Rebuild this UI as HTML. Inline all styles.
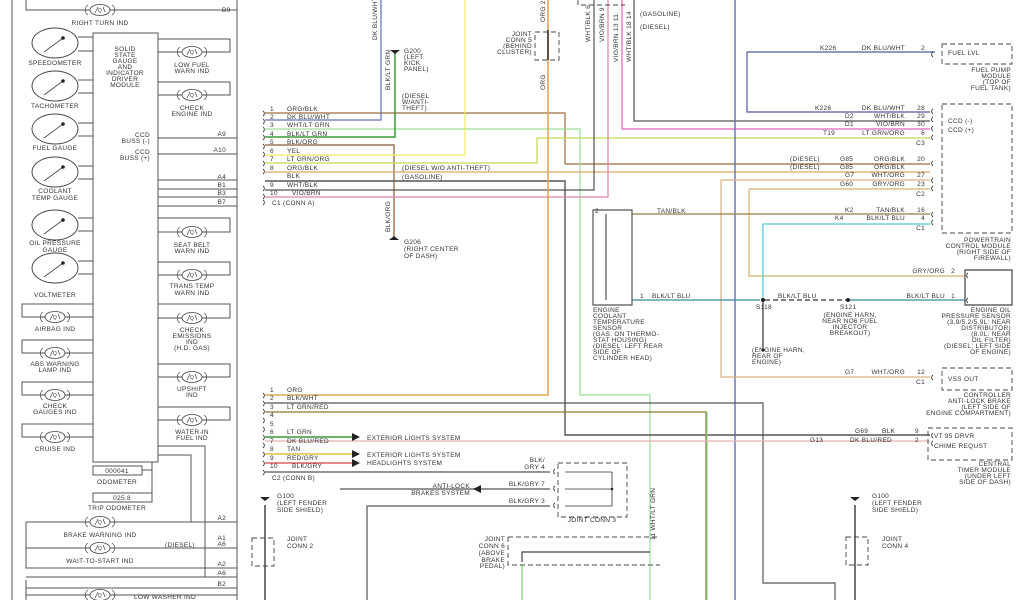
<!DOCTYPE html>
<html><head><meta charset="utf-8"><style>
html,body{margin:0;padding:0;background:#fff;width:1024px;height:600px;overflow:hidden}
svg{display:block}
text{font-family:"Liberation Sans",sans-serif;font-size:6.5px;fill:#333;letter-spacing:0.3px}
.r{text-anchor:end}.m{text-anchor:middle}
</style></head><body>
<svg width="1024" height="600" viewBox="0 0 1024 600" xmlns="http://www.w3.org/2000/svg">
<defs>
<g id="lamp"><ellipse cx="0" cy="0" rx="10" ry="5.5" fill="#fff" stroke="#444" stroke-width="0.8"/><path d="M-14 0h4M10 0h4M-12 -5a6 6 0 0 0 0 10M12 -5a6 6 0 0 1 0 10M-5 3l3-6M3-3l2 5" stroke="#444" stroke-width="0.7" fill="none"/><text x="0" y="2" class="m" style="font-size:5px">Q</text></g>
<g id="gauge"><ellipse cx="0" cy="0" rx="23" ry="15" fill="#fff" stroke="#444" stroke-width="0.9"/><path d="M-11 9L8-5" stroke="#444" stroke-width="0.8"/><circle cx="8" cy="-5" r="1.8" fill="#222"/></g>
</defs>
<g fill="none" stroke-width="1">
<path d="M12 0V600M237 0V600" stroke="#555"/>
<path d="M26 0V10H237" stroke="#555"/>
<rect x="93" y="33" width="65" height="429" stroke="#555" fill="#fff"/>
<g stroke="#555">
<path d="M78 37H93M78 51H93M78 80H93M78 93H93M78 123H93M78 136H93M78 166H93M78 179H93M78 218H93M78 231H93M78 261H93M78 274H93"/>
<path d="M158 39H230V52H158M158 82H230V95H158M158 218H230V232H158M158 262H230V275H158M158 304H230V318H158M158 364H230V377H158M158 407H230V420H158"/>
<path d="M93 304H22V317H93M93 340H22V353H93M93 382H22V395H93M93 424H22V437H93"/>
<path d="M158 138H237M158 154H237M158 180H237M158 189H237M158 197H237M158 206H237"/>
<path d="M142 470H152V462M152 497V462M158 455H191V522M158 446H205V577"/>
<path d="M26 522H237M26 548H237M26 522V568H237M26 577H237M26 580V600M26 588H237M26 595H237"/>
<rect x="93" y="466" width="49" height="9" fill="#fff"/><rect x="93" y="493" width="59" height="9" fill="#fff"/>
</g>
</g>
<g>
<use href="#gauge" x="55" y="43"/><use href="#gauge" x="55" y="86"/><use href="#gauge" x="55" y="129"/><use href="#gauge" x="55" y="172"/><use href="#gauge" x="55" y="225"/><use href="#gauge" x="55" y="268"/>
<use href="#lamp" x="100" y="10"/>
<use href="#lamp" x="192" y="52"/><use href="#lamp" x="192" y="95"/><use href="#lamp" x="192" y="232"/><use href="#lamp" x="192" y="275"/><use href="#lamp" x="192" y="318"/><use href="#lamp" x="192" y="377"/><use href="#lamp" x="192" y="420"/>
<use href="#lamp" x="55" y="317"/><use href="#lamp" x="55" y="353"/><use href="#lamp" x="55" y="395"/><use href="#lamp" x="55" y="437"/>
<use href="#lamp" x="100" y="522"/><use href="#lamp" x="100" y="548"/><use href="#lamp" x="100" y="595"/>
</g>
<text x="100" y="25" class="m">RIGHT TURN IND</text><text x="222" y="12">B9</text>
<text x="55" y="65" class="m">SPEEDOMETER</text><text x="55" y="108" class="m">TACHOMETER</text><text x="55" y="150" class="m">FUEL GAUGE</text>
<text x="55" y="193" class="m">COOLANT</text><text x="55" y="200" class="m">TEMP GAUGE</text>
<text x="55" y="245" class="m">OIL PRESSURE</text><text x="55" y="252" class="m">GAUGE</text><text x="55" y="297" class="m">VOLTMETER</text>
<text x="125" y="51" class="m">SOLID</text><text x="125" y="57" class="m">STATE</text><text x="125" y="63" class="m">GAUGE</text><text x="125" y="69" class="m">AND</text><text x="125" y="75" class="m">INDICATOR</text><text x="125" y="81" class="m">DRIVER</text><text x="125" y="87" class="m">MODULE</text>
<text x="150" y="137" class="r">CCD</text><text x="150" y="143" class="r">BUSS (-)</text><text x="150" y="154" class="r">CCD</text><text x="150" y="160" class="r">BUSS (+)</text>
<text x="192" y="67" class="m">LOW FUEL</text><text x="192" y="73" class="m">WARN IND</text><text x="192" y="110" class="m">CHECK</text><text x="192" y="116" class="m">ENGINE IND</text>
<text x="226" y="136" class="r">A9</text><text x="226" y="152" class="r">A10</text><text x="226" y="179" class="r">A4</text><text x="226" y="187" class="r">B1</text><text x="226" y="195" class="r">B3</text><text x="226" y="204" class="r">B7</text>
<text x="192" y="247" class="m">SEAT BELT</text><text x="192" y="253" class="m">WARN IND</text><text x="192" y="288" class="m">TRANS TEMP</text><text x="192" y="295" class="m">WARN IND</text>
<text x="55" y="331" class="m">AIRBAG IND</text><text x="55" y="366" class="m">ABS WARNING</text><text x="55" y="372" class="m">LAMP IND</text>
<text x="55" y="408" class="m">CHECK</text><text x="55" y="414" class="m">GAUGES IND</text><text x="55" y="451" class="m">CRUISE IND</text>
<text x="192" y="332" class="m">CHECK</text><text x="192" y="338" class="m">EMISSIONS</text><text x="192" y="344" class="m">IND</text><text x="192" y="350" class="m">(H.D. GAS)</text>
<text x="192" y="391" class="m">UPSHIFT</text><text x="192" y="397" class="m">IND</text><text x="192" y="434" class="m">WATER-IN</text><text x="192" y="440" class="m">FUEL IND</text>
<text x="117" y="473" class="m">000041</text><text x="117" y="484" class="m">ODOMETER</text><text x="122" y="500" class="m">025.8</text><text x="117" y="510" class="m">TRIP ODOMETER</text>
<text x="100" y="537" class="m">BRAKE WARNING IND</text><text x="100" y="563" class="m">WAIT-TO-START IND</text><text x="165" y="547">(DIESEL)</text>
<text x="226" y="520" class="r">A2</text><text x="226" y="540" class="r">A1</text><text x="226" y="546" class="r">A6</text><text x="226" y="566" class="r">A2</text><text x="226" y="575" class="r">A6</text><text x="226" y="586" class="r">B2</text>
<text x="165" y="599" class="m">LOW WASHER IND</text>

<g fill="none" stroke-width="1.2">
<path d="M265 113H565V164H930" stroke="#9a6a3a"/>
<path d="M265 120H381V0" stroke="#6070b0"/>
<path d="M265 129H580V395H650V600" stroke="#9be09b"/>
<path d="M265 137H395V50" stroke="#3a9a3a" stroke-width="1.5"/>
<path d="M265 145H394V240" stroke="#8a5a30"/>
<path d="M265 155H465V0" stroke="#f0e860"/>
<path d="M265 163H537V138H930" stroke="#c0dc50"/>
<path d="M265 172H930" stroke="#dca868"/>
<path d="M265 181H565V435H930" stroke="#555" stroke-width="1.4"/>
<path d="M265 190H594V0" stroke="#555"/>
<path d="M265 197H608V0" stroke="#e080b0"/>
<path d="M548 0V395H265" stroke="#dca858" stroke-width="1.6"/>
<path d="M622 0V129H930" stroke="#e060c0"/>
<path d="M634 0V121H930" stroke="#555"/>
<path d="M747 52H935M747 52V112H930" stroke="#505aa0"/>
<path d="M735 0V600" stroke="#6070b0" stroke-width="1.4"/>
<path d="M721 180H930M721 180V377H930" stroke="#dcb080"/>
<path d="M749 189H930M749 189V276H965" stroke="#d4b070"/>
<path d="M632 214H930" stroke="#9a7a3a"/>
<path d="M763 224H930M763 224V300" stroke="#50c8d0"/>
<path d="M632 300H760M848 300H965" stroke="#3a8a9a"/>
<path d="M765 300H848" stroke="#333" stroke-dasharray="5 3"/>
<path d="M763 300V350" stroke="#333"/>
<path d="M265 403H763V583H835V600" stroke="#555"/>
<path d="M265 412H706V600" stroke="#8a7a30"/>
<path d="M707 412V600" stroke="#8ad88a"/>
<path d="M265 437H352" stroke="#3a9a3a" stroke-width="1.5"/>
<path d="M265 441H930" stroke="#e8b0b0"/>
<path d="M265 454H352" stroke="#e0c040" stroke-width="1.5"/>
<path d="M265 463H352" stroke="#e06060" stroke-width="1.5"/>
<path d="M265 472H550" stroke="#555"/>
<path d="M340 489H550" stroke="#555"/>
<path d="M367 600V506H550" stroke="#555"/>
<path d="M565 472H612V506H565M565 489H612" stroke="#333" stroke-width="0.8"/>
<path d="M265 505V600" stroke="#444" stroke-width="1.5"/>
<path d="M855 505V600" stroke="#444" stroke-width="1.5"/>
<path d="M522 565V600" stroke="#8ad88a" stroke-width="1.4"/>
<path d="M522 562V552H650" stroke="#444"/>
<path d="M593 210V305H632V210Z" stroke="#555"/>
<path d="M606 214V300" stroke="#555"/>
<path d="M965 270H1012V305H965Z" stroke="#444"/>
<path d="M548 30V60" stroke="#222" stroke-width="1.4"/>
</g>
<path d="M352 433l8 4-8 4zM352 450l8 4-8 4zM352 459l8 4-8 4zM473 489l8-4v8z" fill="#222"/>
<g fill="none" stroke="#444" stroke-width="0.9" stroke-dasharray="5 3">
<rect x="942" y="44" width="70" height="20"/>
<rect x="942" y="104" width="70" height="129"/>
<rect x="942" y="368" width="70" height="22"/>
<rect x="928" y="428" width="84" height="32"/>
<rect x="558" y="463" width="69" height="54"/>
<path d="M508 537V565H660M508 537H660"/>
<rect x="535" y="32" width="24" height="28"/>
<rect x="252" y="538" width="22" height="28"/>
<rect x="846" y="537" width="22" height="28"/>
<path d="M578 0V5H625"/>
</g>
<g fill="#222"><path d="M390 50h10l-5 4z"/><path d="M389 240h10l-5-4z"/><path d="M260 497h10l-5 4z"/><path d="M850 497h10l-5 4z"/>
<circle cx="763" cy="300" r="2"/><circle cx="848" cy="300" r="2"/><circle cx="763" cy="350" r="1.5"/><circle cx="612" cy="489" r="1.3"/></g>
<g fill="none" stroke="#333" stroke-width="0.8">
<path d="M933 52a3 3 0 0 0 0 5M933 109a3 3 0 0 0 0 5M933 117a3 3 0 0 0 0 5M933 126a3 3 0 0 0 0 5M933 135a3 3 0 0 0 0 5M933 161a3 3 0 0 0 0 5M933 178a3 3 0 0 0 0 5M933 186a3 3 0 0 0 0 5M933 212a3 3 0 0 0 0 5M933 220a3 3 0 0 0 0 5M933 375a3 3 0 0 0 0 5M933 433a3 3 0 0 0 0 5M933 441a3 3 0 0 0 0 5M968 273a3 3 0 0 0 0 5M968 298a3 3 0 0 0 0 5"/>
<path d="M263 111a3 3 0 0 1 0 5M263 119a3 3 0 0 1 0 5M263 127a3 3 0 0 1 0 5M263 135a3 3 0 0 1 0 5M263 144a3 3 0 0 1 0 5M263 152a3 3 0 0 1 0 5M263 161a3 3 0 0 1 0 5M263 169a3 3 0 0 1 0 5M263 186a3 3 0 0 1 0 5M263 194a3 3 0 0 1 0 5M263 200a3 3 0 0 1 0 5"/>
<path d="M263 393a3 3 0 0 1 0 5M263 401a3 3 0 0 1 0 5M263 409a3 3 0 0 1 0 5M263 418a3 3 0 0 1 0 5M263 427a3 3 0 0 1 0 5M263 435a3 3 0 0 1 0 5M263 443a3 3 0 0 1 0 5M263 452a3 3 0 0 1 0 5M263 461a3 3 0 0 1 0 5M263 470a3 3 0 0 1 0 5"/>
<path d="M555 469a3 3 0 0 0 0 5M555 486a3 3 0 0 0 0 5M555 503a3 3 0 0 0 0 5"/>
</g>
<g>
<text x="270" y="111">1</text><text x="287" y="111">ORG/BLK</text>
<text x="270" y="119">2</text><text x="287" y="119">DK BLU/WHT</text>
<text x="270" y="127">3</text><text x="287" y="127">WHT/LT GRN</text>
<text x="270" y="136">4</text><text x="287" y="136">BLK/LT GRN</text>
<text x="270" y="144">5</text><text x="287" y="144">BLK/ORG</text>
<text x="270" y="153">6</text><text x="287" y="153">YEL</text>
<text x="270" y="161">7</text><text x="287" y="161">LT GRN/ORG</text>
<text x="270" y="170">8</text><text x="287" y="170">ORG/BLK</text>
<text x="287" y="178">BLK</text>
<text x="270" y="187">9</text><text x="287" y="187">WHT/BLK</text>
<text x="270" y="195">10</text><text x="292" y="195">VIO/BRN</text>
<text x="272" y="205">C1 (CONN A)</text>
<text x="402" y="170">(DIESEL W/O ANTI-THEFT)</text><text x="402" y="179">(GASOLINE)</text>
<text x="402" y="98">(DIESEL</text><text x="402" y="104">W/ANTI-</text><text x="402" y="110">THEFT)</text>
<text x="404" y="53">G200</text><text x="404" y="59">(LEFT</text><text x="404" y="65">KICK</text><text x="404" y="71">PANEL)</text>
<text x="404" y="244">G206</text><text x="404" y="251">(RIGHT CENTER</text><text x="404" y="258">OF DASH)</text>
<text x="532" y="36" class="r">JOINT</text><text x="532" y="42" class="r">CONN 5</text><text x="532" y="48" class="r">(BEHIND</text><text x="532" y="54" class="r">CLUSTER)</text>
<text x="640" y="16">(GASOLINE)</text><text x="640" y="29">(DIESEL)</text>
<text transform="translate(377 40) rotate(-90)">DK BLU/WHT</text>
<text transform="translate(390 90) rotate(-90)">BLK/LT GRN</text>
<text transform="translate(390 232) rotate(-90)">BLK/ORG</text>
<text transform="translate(545 90) rotate(-90)">ORG</text><text transform="translate(545 22) rotate(-90)">ORG 28</text>
<text transform="translate(590 42) rotate(-90)">WHT/BLK 6</text><text transform="translate(604 42) rotate(-90)">VIO/BRN 9</text>
<text transform="translate(618 62) rotate(-90)">VIO/BRN 13 11</text><text transform="translate(631 62) rotate(-90)">WHT/BLK 18 14</text>
<text x="270" y="392">1</text><text x="287" y="392">ORG</text>
<text x="270" y="400">2</text><text x="287" y="400">BLK/WHT</text>
<text x="270" y="409">3</text><text x="287" y="409">LT GRN/RED</text>
<text x="270" y="417">4</text><text x="270" y="426">5</text>
<text x="270" y="434">6</text><text x="287" y="434">LT GRN</text>
<text x="270" y="443">7</text><text x="287" y="443">DK BLU/RED</text>
<text x="270" y="451">8</text><text x="287" y="451">TAN</text>
<text x="270" y="460">9</text><text x="287" y="460">RED/GRY</text>
<text x="270" y="468">10</text><text x="292" y="468">BLK/GRY</text>
<text x="272" y="480">C2 (CONN B)</text>
<text x="367" y="440">EXTERIOR LIGHTS SYSTEM</text><text x="367" y="457">EXTERIOR LIGHTS SYSTEM</text><text x="367" y="465">HEADLIGHTS SYSTEM</text>
<text x="545" y="462" class="r">BLK/</text><text x="545" y="469" class="r">GRY 4</text>
<text x="545" y="486" class="r">BLK/GRY 7</text><text x="545" y="503" class="r">BLK/GRY 3</text>
<text x="470" y="488" class="r">ANTI-LOCK</text><text x="470" y="495" class="r">BRAKES SYSTEM</text>
<text x="592" y="522" class="m">JOINT CONN 3</text>
<text x="277" y="498">G100</text><text x="277" y="505">(LEFT FENDER</text><text x="277" y="512">SIDE SHIELD)</text>
<text x="287" y="541">JOINT</text><text x="287" y="548">CONN 2</text>
<text x="505" y="541" class="r">JOINT</text><text x="505" y="548" class="r">CONN 6</text><text x="505" y="555" class="r">(ABOVE</text><text x="505" y="562" class="r">BRAKE</text><text x="505" y="568" class="r">PEDAL)</text>
<text transform="translate(655 540) rotate(-90)">11 WHT/LT GRN</text>
<text x="595" y="213">2</text><text x="657" y="213">TAN/BLK</text>
<text x="640" y="298">1</text><text x="652" y="298">BLK/LT BLU</text>
<text x="593" y="312">ENGINE</text><text x="593" y="318">COOLANT</text><text x="593" y="324">TEMPERATURE</text><text x="593" y="330">SENSOR</text><text x="593" y="336">(GAS: ON THERMO-</text><text x="593" y="342">STAT HOUSING)</text><text x="593" y="348">(DIESEL: LEFT REAR</text><text x="593" y="354">SIDE OF</text><text x="593" y="360">CYLINDER HEAD)</text>
</g>
<g>
<text x="820" y="50">K226</text><text x="905" y="50" class="r">DK BLU/WHT</text><text x="925" y="50" class="r">2</text>
<text x="948" y="55">FUEL LVL</text>
<text x="1011" y="72" class="r">FUEL PUMP</text><text x="1011" y="78" class="r">MODULE</text><text x="1011" y="84" class="r">(TOP OF</text><text x="1011" y="90" class="r">FUEL TANK)</text>
<text x="815" y="110">K226</text><text x="905" y="110" class="r">DK BLU/WHT</text><text x="925" y="110" class="r">28</text>
<text x="845" y="118">D2</text><text x="905" y="118" class="r">WHT/BLK</text><text x="925" y="118" class="r">29</text>
<text x="845" y="126">D1</text><text x="905" y="126" class="r">VIO/BRN</text><text x="925" y="126" class="r">30</text>
<text x="823" y="135">T19</text><text x="905" y="135" class="r">LT GRN/ORG</text><text x="925" y="135" class="r">6</text>
<text x="925" y="145" class="r">C3</text>
<text x="948" y="123">CCD (-)</text><text x="948" y="132">CCD (+)</text>
<text x="790" y="161">(DIESEL)</text><text x="840" y="161">G85</text><text x="905" y="161" class="r">ORG/BLK</text><text x="925" y="161" class="r">20</text>
<text x="790" y="169">(DIESEL)</text><text x="840" y="169">G85</text><text x="905" y="169" class="r">ORG/BLK</text>
<text x="845" y="177">G7</text><text x="905" y="177" class="r">WHT/ORG</text><text x="925" y="177" class="r">27</text>
<text x="840" y="186">G60</text><text x="905" y="186" class="r">GRY/ORG</text><text x="925" y="186" class="r">23</text>
<text x="925" y="196" class="r">C2</text>
<text x="845" y="212">K2</text><text x="905" y="212" class="r">TAN/BLK</text><text x="925" y="212" class="r">16</text>
<text x="835" y="220">K4</text><text x="905" y="220" class="r">BLK/LT BLU</text><text x="925" y="220" class="r">4</text>
<text x="925" y="230" class="r">C1</text>
<text x="1011" y="242" class="r">POWERTRAIN</text><text x="1011" y="248" class="r">CONTROL MODULE</text><text x="1011" y="254" class="r">(RIGHT SIDE OF</text><text x="1011" y="260" class="r">FIREWALL)</text>
<text x="945" y="273" class="r">GRY/ORG</text><text x="955" y="273" class="r">2</text>
<text x="945" y="298" class="r">BLK/LT BLU</text><text x="955" y="298" class="r">1</text>
<text x="778" y="298">BLK/LT BLU</text>
<text x="756" y="309">S118</text><text x="840" y="309">S121</text>
<text x="850" y="317" class="m">(ENGINE HARN,</text><text x="850" y="323" class="m">NEAR NO6 FUEL</text><text x="850" y="329" class="m">INJECTOR</text><text x="850" y="335" class="m">BREAKOUT)</text>
<text x="752" y="352">(ENGINE HARN,</text><text x="752" y="358">REAR OF</text><text x="752" y="364">ENGINE)</text>
<text x="1011" y="312" class="r">ENGINE OIL</text><text x="1011" y="318" class="r">PRESSURE SENSOR</text><text x="1011" y="324" class="r">(3.9/5.2/5.9L: NEAR</text><text x="1011" y="330" class="r">DISTRIBUTOR)</text><text x="1011" y="336" class="r">(8.0L: NEAR</text><text x="1011" y="342" class="r">OIL FILTER)</text><text x="1011" y="348" class="r">(DIESEL: LEFT SIDE</text><text x="1011" y="354" class="r">OF ENGINE)</text>
<text x="845" y="374">G7</text><text x="905" y="374" class="r">WHT/ORG</text><text x="925" y="374" class="r">12</text><text x="925" y="384" class="r">C1</text>
<text x="948" y="381">VSS OUT</text>
<text x="1011" y="397" class="r">CONTROLLER</text><text x="1011" y="403" class="r">ANTI-LOCK BRAKE</text><text x="1011" y="409" class="r">(LEFT SIDE OF</text><text x="1011" y="415" class="r">ENGINE COMPARTMENT)</text>
<text x="855" y="433">G69</text><text x="882" y="433">BLK</text><text x="915" y="433">9</text>
<text x="810" y="442">G13</text><text x="850" y="442">DK BLU/RED</text><text x="915" y="442">2</text>
<text x="934" y="438">VT 95 DRVR</text><text x="934" y="448">CHIME REQUST</text>
<text x="1011" y="466" class="r">CENTRAL</text><text x="1011" y="472" class="r">TIMER MODULE</text><text x="1011" y="478" class="r">(UNDER LEFT</text><text x="1011" y="484" class="r">SIDE OF DASH)</text>
<text x="872" y="498">G100</text><text x="872" y="505">(LEFT FENDER</text><text x="872" y="512">SIDE SHIELD)</text>
<text x="882" y="541">JOINT</text><text x="882" y="548">CONN 4</text>
</g>
</svg>
</body></html>
